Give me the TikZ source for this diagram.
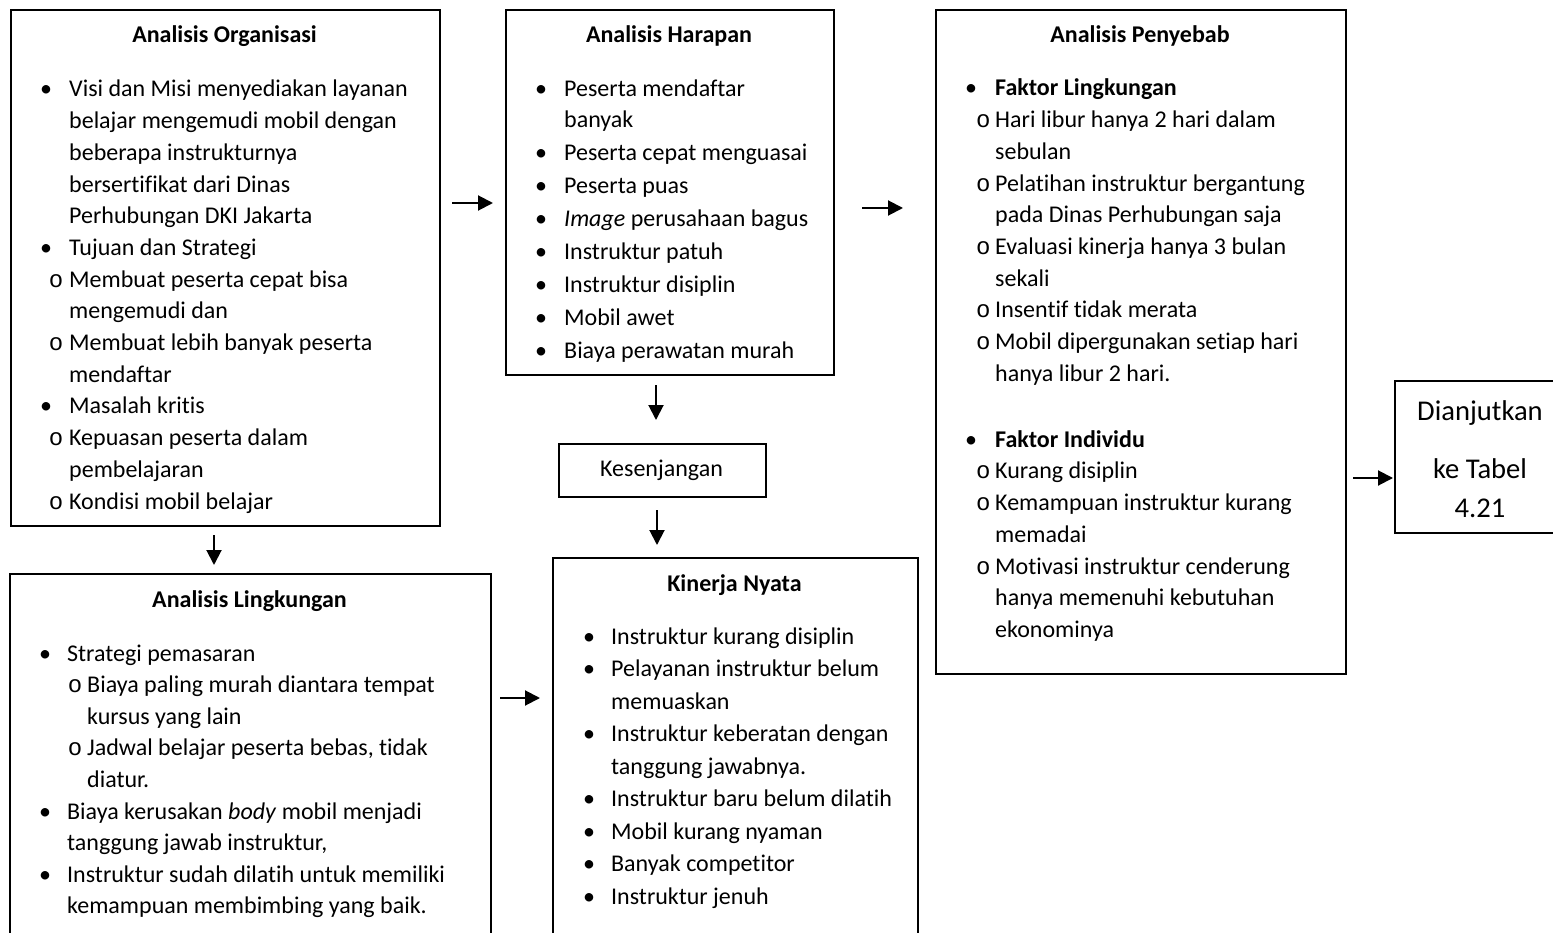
\documentclass[tikz,border=0pt]{standalone}
\usepackage{fontspec}
\setmainfont{Carlito}[Ligatures=NoCommon]
\newfontfamily\monof{Liberation Mono}
\usetikzlibrary{arrows.meta}
\newcommand\bux[1]{\leavevmode\llap{\makebox[0pt][c]{\textbullet}\hspace{#1}}}
\newcommand\obx[1]{\leavevmode\llap{\makebox[0pt][c]{\monof o}\hspace{#1}}}
\newcommand\blk[2]{\parbox[t]{440pt}{\fontsize{24}{#1}\selectfont\raggedright #2}}
\tikzset{
  box/.style={draw, line width=2.2pt, rectangle, inner sep=0pt, anchor=north west},
  ttl/.style={inner sep=0pt, anchor=base, font=\fontsize{24}{29}\selectfont\bfseries},
  txt/.style={inner sep=0pt, anchor=base west},
  arr/.style={line width=2pt, -{Triangle[length=15pt,width=15pt]}}
}
\begin{document}
\begin{tikzpicture}[x=1pt,y=-1pt]
\useasboundingbox (0,0) rectangle (1553,933);
\fill[white] (0,0) rectangle (1553,933);
\clip (0,0) rectangle (1553,933);

% boxes
\node[box, minimum width=429pt, minimum height=516pt] (org) at (10,9) {};
\node[box, minimum width=328pt, minimum height=365pt] (har) at (505,9) {};
\node[box, minimum width=410pt, minimum height=664pt] (pen) at (935,9) {};
\node[box, minimum width=207pt, minimum height=53pt] (kes) at (558,443) {};
\node[box, minimum width=365pt, minimum height=450pt] (kin) at (552,557) {};
\node[box, minimum width=481pt, minimum height=450pt] (lin) at (9,573) {};
\node[box, minimum width=172pt, minimum height=152pt] (dia) at (1394,380) {};

% titles
\node[ttl] (orgT) at (224.5,43) {Analisis Organisasi};
\node[ttl] (harT) at (669,43) {Analisis Harapan};
\node[ttl] (penT) at (1140,43) {Analisis Penyebab};
\node[ttl] (kinT) at (734.5,591) {Kinerja Nyata};
\node[ttl] (linT) at (249.5,607) {Analisis Lingkungan};

% bodies
\node[txt] (orgB) at (69,97) {\blk{31.7}{%
\bux{23pt}Visi dan Misi menyediakan layanan\\
belajar mengemudi mobil dengan\\
beberapa instrukturnya\\
bersertifikat dari Dinas\\
Perhubungan DKI Jakarta\\
\bux{23pt}Tujuan dan Strategi\\
\obx{13pt}Membuat peserta cepat bisa\\
mengemudi dan\\
\obx{13pt}Membuat lebih banyak peserta\\
mendaftar\\
\bux{23pt}Masalah kritis\\
\obx{13pt}Kepuasan peserta dalam\\
pembelajaran\\
\obx{13pt}Kondisi mobil belajar}};

\node[txt] (harB) at (564,97) {\blk{31}{%
\bux{23pt}Peserta mendaftar\\
banyak\\[2pt]
\bux{23pt}Peserta cepat menguasai\\[2pt]
\bux{23pt}Peserta puas\\[2pt]
\bux{23pt}\textit{Image} perusahaan bagus\\[2pt]
\bux{23pt}Instruktur patuh\\[2pt]
\bux{23pt}Instruktur disiplin\\[2pt]
\bux{23pt}Mobil awet\\[2pt]
\bux{23pt}Biaya perawatan murah}};

\node[txt] (penB) at (995,96) {\blk{31.7}{%
\bux{24pt}\textbf{Faktor Lingkungan}\\
\obx{12pt}Hari libur hanya 2 hari dalam\\
sebulan\\
\obx{12pt}Pelatihan instruktur bergantung\\
pada Dinas Perhubungan saja\\
\obx{12pt}Evaluasi kinerja hanya 3 bulan\\
sekali\\
\obx{12pt}Insentif tidak merata\\
\obx{12pt}Mobil dipergunakan setiap hari\\
hanya libur 2 hari.\\[34.3pt]
\bux{24pt}\textbf{Faktor Individu}\\
\obx{12pt}Kurang disiplin\\
\obx{12pt}Kemampuan instruktur kurang\\
memadai\\
\obx{12pt}Motivasi instruktur cenderung\\
hanya memenuhi kebutuhan\\
ekonominya}};

\node[txt] (kinB) at (611,644) {\blk{32.5}{%
\bux{22pt}Instruktur kurang disiplin\\
\bux{22pt}Pelayanan instruktur belum\\
memuaskan\\
\bux{22pt}Instruktur keberatan dengan\\
tanggung jawabnya.\\
\bux{22pt}Instruktur baru belum dilatih\\
\bux{22pt}Mobil kurang nyaman\\
\bux{22pt}Banyak competitor\\
\bux{22pt}Instruktur jenuh}};

\node[txt] (linB) at (67,661) {\blk{31.6}{%
\bux{22pt}Strategi pemasaran\\
\hspace*{20pt}\obx{12pt}Biaya paling murah diantara tempat\\
\hspace*{20pt}kursus yang lain\\
\hspace*{20pt}\obx{12pt}Jadwal belajar peserta bebas, tidak\\
\hspace*{20pt}diatur.\\
\bux{22pt}Biaya kerusakan \textit{body} mobil menjadi\\
tanggung jawab instruktur,\\
\bux{22pt}Instruktur sudah dilatih untuk memiliki\\
kemampuan membimbing yang baik.}};

\node[inner sep=0pt, anchor=base, font=\fontsize{24}{29}\selectfont] (kesT) at (661.5,476) {Kesenjangan};

\node[inner sep=0pt, anchor=base] (diaT) at (1480,420) {\parbox[t]{200pt}{\centering\fontsize{28.6}{39}\selectfont Dianjutkan\\[19pt]ke Tabel\\4.21}};

% arrows
\coordinate (r1) at (0,203);
\coordinate (r2) at (0,208);
\coordinate (r6) at (0,698);
\coordinate (r7) at (0,478);
\coordinate (c3) at (656,0);
\coordinate (c4) at (657,0);
\coordinate (c5) at (214,0);
\draw[arr, shorten <=11pt, shorten >=12pt] (org.east |- r1) -- (har.west |- r1);
\draw[arr, shorten <=27pt, shorten >=32pt] (har.east |- r2) -- (pen.west |- r2);
\draw[arr, shorten <=9pt, shorten >=23pt] (har.south -| c3) -- (kes.north -| c3);
\draw[arr, shorten <=12pt, shorten >=12pt] (kes.south -| c4) -- (kin.north -| c4);
\draw[arr, shorten <=8pt, shorten >=8pt] (org.south -| c5) -- (lin.north -| c5);
\draw[arr, shorten <=8pt, shorten >=12pt] (lin.east |- r6) -- (kin.west |- r6);
\draw[arr, shorten <=6pt, shorten >=1pt] (pen.east |- r7) -- (dia.west |- r7);
\end{tikzpicture}
\end{document}
